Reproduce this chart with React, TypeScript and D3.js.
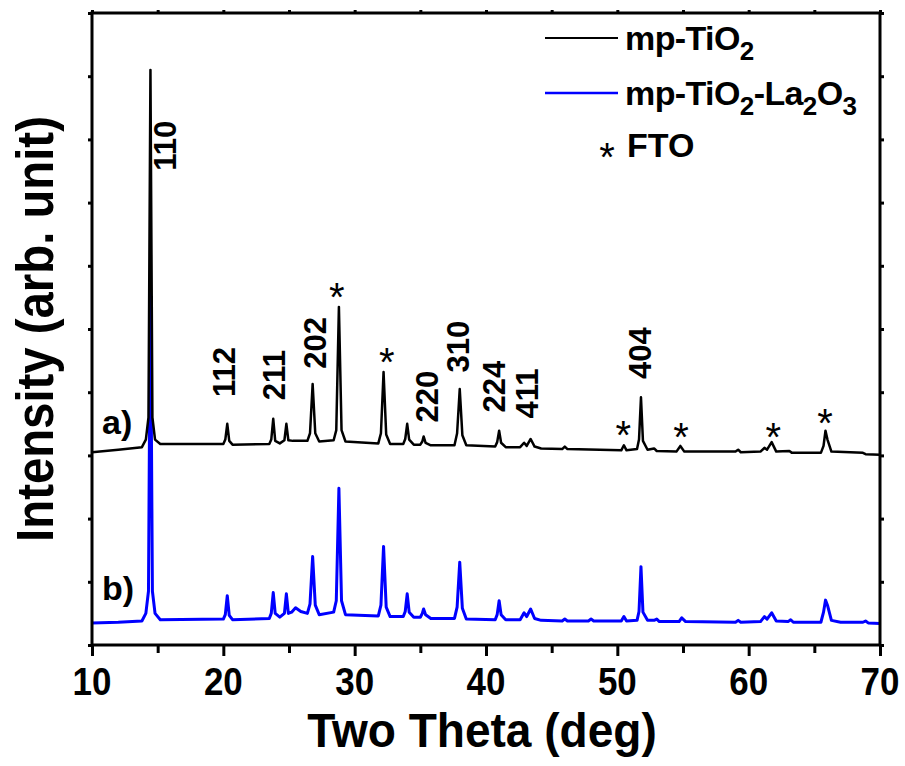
import React, { useEffect, useRef } from 'react';
import * as d3 from 'd3';

// two theta (deg) vs intensity (arb. unit)
const tio2Pattern: [number, number][] = [
  [10, 30.5], [12, 30.9], [13.8, 31.3], [14.1, 32.5], [14.3, 36], [14.45, 91.0], [14.6, 36], [14.8, 32.5],
  [15.2, 31.8], [20.0, 31.8], [20.15, 32.5], [20.3, 35.0], [20.45, 32.3], [20.7, 31.7], [23.5, 31.8],
  [23.65, 32.5], [23.8, 35.8], [23.95, 32.3], [24.3, 31.9], [24.65, 32.4], [24.8, 35.0], [24.95, 32.4],
  [25.3, 32.3], [26.4, 32.3], [26.6, 33.5], [26.8, 41.3], [27.0, 33.5], [27.3, 32.2], [28.4, 32.4],
  [28.6, 34], [28.8, 53.5], [29.0, 34], [29.3, 32.2], [31.8, 31.9], [32.0, 33.5], [32.2, 43.2], [32.4, 33.3],
  [32.7, 31.8], [33.7, 31.8], [33.85, 32.6], [34.0, 35.0], [34.15, 32.5], [34.5, 31.7], [35.0, 31.7],
  [35.15, 32.2], [35.25, 33.0], [35.4, 32.0], [35.8, 31.6], [37.6, 31.6], [37.8, 33.5], [38.0, 40.5],
  [38.2, 33.2], [38.5, 31.6], [40.7, 31.4], [40.85, 32.1], [41.0, 33.9], [41.15, 32.0], [41.5, 31.3],
  [42.6, 31.3], [42.9, 32.0], [43.1, 31.5], [43.4, 32.6], [43.7, 31.4], [44.2, 31.1], [45.8, 31.0],
  [46.0, 31.4], [46.2, 31.0], [50.3, 30.8], [50.5, 31.6], [50.7, 30.8], [51.5, 31.0], [51.65, 32.5],
  [51.8, 39.2], [51.95, 32.3], [52.3, 30.9], [52.8, 31.1], [53.0, 30.7], [54.5, 30.6], [54.8, 31.5],
  [55.1, 30.6], [59.0, 30.6], [59.2, 30.9], [59.4, 30.5], [60.9, 30.6], [61.2, 31.2], [61.4, 30.9],
  [61.75, 32.1], [62.1, 30.6], [63.1, 30.7], [63.3, 30.4], [65.5, 30.4], [65.7, 31.5], [65.85, 33.9],
  [66.0, 32.5], [66.3, 30.6], [68.7, 30.4], [68.9, 30.2], [70, 30.1],
];

const tio2LaPattern: [number, number][] = [
  [10, 3.5], [12, 3.6], [13.8, 3.8], [14.1, 5.0], [14.3, 8.5], [14.45, 58.5], [14.6, 8.5], [14.8, 5.0],
  [15.2, 4.0], [20.0, 4.1], [20.15, 4.8], [20.3, 7.8], [20.45, 4.7], [20.7, 4.0], [23.5, 4.2], [23.65, 5.0],
  [23.8, 8.3], [23.95, 5.0], [24.3, 4.4], [24.65, 5.0], [24.8, 8.1], [24.95, 5.0], [25.2, 5.2], [25.5, 5.9],
  [25.9, 5.3], [26.4, 5.0], [26.6, 6.5], [26.8, 14.0], [27.0, 6.3], [27.3, 4.8], [28.4, 5.2], [28.6, 7.0],
  [28.8, 24.8], [29.0, 7.0], [29.3, 4.8], [31.8, 4.6], [32.0, 6.3], [32.2, 15.6], [32.4, 6.0], [32.7, 4.5],
  [33.7, 4.5], [33.85, 5.3], [34.0, 8.1], [34.15, 5.2], [34.5, 4.4], [35.0, 4.4], [35.15, 5.0], [35.25, 5.7],
  [35.4, 4.8], [35.8, 4.2], [37.6, 4.2], [37.8, 6.0], [38.0, 13.1], [38.2, 5.8], [38.5, 4.1], [40.7, 4.0],
  [40.85, 4.8], [41.0, 7.0], [41.15, 4.8], [41.5, 4.0], [42.6, 4.0], [42.9, 5.1], [43.1, 4.5], [43.4, 5.7],
  [43.7, 4.2], [44.2, 3.9], [45.8, 3.8], [46.0, 4.1], [46.2, 3.8], [47.8, 3.8], [48.0, 4.1], [48.2, 3.8],
  [50.3, 3.8], [50.5, 4.5], [50.7, 3.8], [51.5, 3.9], [51.65, 5.3], [51.8, 12.4], [51.95, 5.2], [52.3, 3.9],
  [52.8, 3.9], [53.0, 4.1], [53.2, 3.7], [54.7, 3.7], [54.9, 4.3], [55.2, 3.7], [59.0, 3.6], [59.2, 3.9],
  [59.4, 3.6], [60.9, 3.7], [61.2, 4.5], [61.4, 4.1], [61.75, 5.1], [62.1, 3.8], [63.0, 3.7], [63.2, 4.0],
  [63.4, 3.6], [65.5, 3.6], [65.7, 5.2], [65.85, 7.1], [66.0, 6.3], [66.3, 3.9], [67.0, 3.6], [68.7, 3.6],
  [68.9, 3.8], [69.1, 3.5], [70, 3.4],
];

// hkl labels: [text, two theta, intensity] at label centre
const hklLabels: [string, number, number][] = [
  ['110', 15.56, 79.0], ['112', 20.05, 43.2], ['211', 23.86, 42.7], ['202', 26.96, 47.8],
  ['220', 35.49, 39.3], ['310', 37.82, 47.2], ['224', 40.56, 40.9], ['411', 43.1, 39.8], ['404', 51.72, 46.2],
];

// FTO reflections marked with *
const ftoMarks: [number, number][] = [
  [28.63, 57.0], [32.44, 46.7], [50.46, 35.1], [54.85, 34.8], [61.88, 34.8], [65.81, 37.1],
];

const xMajor = [10, 20, 30, 40, 50, 60, 70];
const xMinor = [15, 25, 35, 45, 55, 65];
const yTicks = [0, 10, 20, 30, 40, 50, 60, 70, 80, 90, 100];

const FONT = '"Liberation Sans", Arial, sans-serif';

const XrdChart = () => {
  const ref = useRef<SVGSVGElement>(null);

  useEffect(() => {
    const svg = d3.select(ref.current);
    svg.selectAll('*').remove();

    const margin = { top: 13, right: 25, bottom: 121, left: 92 };
    const width = 905;
    const height = 766;

    const x = d3.scaleLinear().domain([10, 70]).range([margin.left, width - margin.right]);
    const y = d3.scaleLinear().domain([0, 100]).range([height - margin.bottom, margin.top]);

    const g = svg.append('g');

    const line = d3.line<[number, number]>()
      .x(d => x(d[0]))
      .y(d => y(d[1]));

    g.append('path')
      .datum(tio2LaPattern)
      .attr('d', line)
      .attr('fill', 'none')
      .attr('stroke', '#0000ff')
      .attr('stroke-width', 3)
      .attr('stroke-linejoin', 'round');

    g.append('path')
      .datum(tio2Pattern)
      .attr('d', line)
      .attr('fill', 'none')
      .attr('stroke', '#000')
      .attr('stroke-width', 2.5)
      .attr('stroke-linejoin', 'round');

    // axes
    const noLabel = () => '';
    const bottom = height - margin.bottom;
    const styleAxis = (sel: any) => {
      sel.select('.domain').remove();
      sel.selectAll('line').attr('stroke', '#000').attr('stroke-width', 3);
    };
    g.append('g').attr('transform', `translate(0,${bottom})`)
      .call(d3.axisBottom(x).tickValues(xMajor).tickSize(11).tickFormat(noLabel)).call(styleAxis);
    g.append('g').attr('transform', `translate(0,${bottom})`)
      .call(d3.axisBottom(x).tickValues(xMinor).tickSize(8).tickFormat(noLabel)).call(styleAxis);
    g.append('g').attr('transform', `translate(0,${margin.top})`)
      .call(d3.axisTop(x).tickValues([...xMajor, ...xMinor]).tickSize(3).tickFormat(noLabel)).call(styleAxis);
    g.append('g').attr('transform', `translate(${margin.left},0)`)
      .call(d3.axisLeft(y).tickValues(yTicks).tickSize(4).tickFormat(noLabel)).call(styleAxis);
    g.append('g').attr('transform', `translate(${width - margin.right},0)`)
      .call(d3.axisRight(y).tickValues(yTicks).tickSize(4).tickFormat(noLabel)).call(styleAxis);

    g.append('rect')
      .attr('x', margin.left)
      .attr('y', margin.top)
      .attr('width', width - margin.left - margin.right)
      .attr('height', height - margin.top - margin.bottom)
      .attr('fill', 'none')
      .attr('stroke', '#000')
      .attr('stroke-width', 3);

    // tick labels
    g.append('g')
      .selectAll('text')
      .data(xMajor)
      .join('text')
      .attr('transform', d => `translate(${x(d)},695) scale(0.92,1)`)
      .attr('text-anchor', 'middle')
      .attr('font-family', FONT)
      .attr('font-weight', 'bold')
      .attr('font-size', 38)
      .text(d => d);

    g.append('text')
      .attr('transform', `translate(${(x(10) + x(70)) / 2 - 4},747) scale(0.94,1)`)
      .attr('text-anchor', 'middle')
      .attr('font-family', FONT)
      .attr('font-weight', 'bold')
      .attr('font-size', 49)
      .text('Two Theta (deg)');

    g.append('text')
      .attr('transform', `translate(53,${(margin.top + bottom) / 2}) rotate(-90) scale(0.91,1)`)
      .attr('text-anchor', 'middle')
      .attr('font-family', FONT)
      .attr('font-weight', 'bold')
      .attr('font-size', 52)
      .text('Intensity (arb. unit)');

    // hkl labels
    g.append('g')
      .selectAll('text')
      .data(hklLabels)
      .join('text')
      .attr('transform', d => `translate(${x(d[1])},${y(d[2])}) rotate(-90) scale(0.97,1)`)
      .attr('text-anchor', 'middle')
      .attr('dominant-baseline', 'central')
      .attr('font-family', FONT)
      .attr('font-weight', 'bold')
      .attr('font-size', 32)
      .text(d => d[0]);

    g.append('g')
      .selectAll('text')
      .data(ftoMarks)
      .join('text')
      .attr('x', d => x(d[0]))
      .attr('y', d => y(d[1]) + 26)
      .attr('text-anchor', 'middle')
      .attr('font-family', FONT)
      .attr('font-size', 40)
      .text('*');

    // curve tags
    [['a)', 434], ['b)', 600]].forEach(([t, yy]) => {
      g.append('text')
        .attr('x', 102)
        .attr('y', yy as number)
        .attr('font-family', FONT)
        .attr('font-weight', 'bold')
        .attr('font-size', 34)
        .text(t as string);
    });

    // legend
    const legend = g.append('g').attr('font-family', FONT).attr('font-weight', 'bold');
    legend.append('line').attr('x1', 545).attr('x2', 618).attr('y1', 38).attr('y2', 38)
      .attr('stroke', '#000').attr('stroke-width', 2);
    legend.append('line').attr('x1', 545).attr('x2', 618).attr('y1', 93).attr('y2', 93)
      .attr('stroke', '#0000ff').attr('stroke-width', 2.5);

    const t1 = legend.append('text').attr('x', 625).attr('y', 50).attr('font-size', 34)
      .attr('letter-spacing', -0.6);
    t1.append('tspan').text('mp-TiO');
    t1.append('tspan').attr('dy', 10).attr('font-size', 26).text('2');

    const t2 = legend.append('text').attr('x', 625).attr('y', 105).attr('font-size', 34)
      .attr('letter-spacing', -0.6);
    t2.append('tspan').text('mp-TiO');
    t2.append('tspan').attr('dy', 10).attr('font-size', 26).text('2');
    t2.append('tspan').attr('dy', -10).text('-La');
    t2.append('tspan').attr('dy', 10).attr('font-size', 26).text('2');
    t2.append('tspan').attr('dy', -10).text('O');
    t2.append('tspan').attr('dy', 10).attr('font-size', 26).text('3');

    legend.append('text').attr('x', 607).attr('y', 171).attr('text-anchor', 'middle')
      .attr('font-weight', 'normal').attr('font-size', 40).text('*');
    legend.append('text').attr('x', 627).attr('y', 157).attr('font-size', 34).text('FTO');
  }, []);

  return (
    <svg
      ref={ref}
      width={905}
      height={766}
      style={{ position: 'absolute', left: 0, top: 0, background: '#fff' }}
    />
  );
};

export default function App() {
  return <XrdChart />;
}
